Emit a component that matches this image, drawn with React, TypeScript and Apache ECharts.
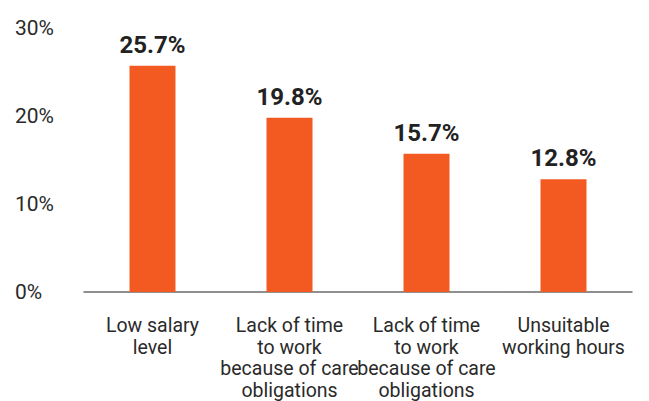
import React, { useEffect, useRef } from "react";
import * as echarts from "echarts";

const categories = [
  "Low salary\nlevel",
  "Lack of time\nto work\nbecause of care\nobligations",
  "Lack of time\nto work\nbecause of care\nobligations",
  "Unsuitable\nworking hours",
];
const values = [25.7, 19.8, 15.7, 12.8];
const yTicks = [0, 10, 20, 30];

export default function App() {
  const ref = useRef<HTMLDivElement>(null);
  useEffect(() => {
    if (!ref.current) return;
    const chart = echarts.init(ref.current, null, { renderer: "svg" });
    chart.setOption({
      animation: false,
      grid: { left: 84, right: 17, top: 28, bottom: 108, containLabel: false },
      xAxis: {
        type: "category",
        data: categories,
        axisLine: { lineStyle: { color: "#6b6b6b", width: 1.5 } },
        axisTick: { show: false },
        axisLabel: {
          color: "#2a2a2a",
          fontFamily: "Roboto",
          fontSize: 19.5,
          lineHeight: 21.5,
          margin: 23,
          interval: 0,
        },
      },
      yAxis: {
        type: "value",
        min: yTicks[0],
        max: yTicks[yTicks.length - 1],
        interval: 10,
        splitLine: { show: false },
        axisLine: { show: false },
        axisTick: { show: false },
        axisLabel: {
          color: "#2a2a2a",
          fontFamily: "Roboto",
          fontSize: 21,
          align: "left",
          margin: 69,
          formatter: (v: number) => v + "%",
        },
      },
      series: [
        {
          type: "bar",
          data: values,
          barWidth: 46,
          itemStyle: { color: "#F25A22" },
          label: {
            show: true,
            position: "top",
            distance: 9,
            color: "#222",
            fontFamily: "Roboto",
            fontWeight: "bold",
            fontSize: 24,
            formatter: (p: any) => p.value.toFixed(1) + "%",
          },
        },
      ],
    });
    return () => chart.dispose();
  }, []);
  return <div ref={ref} style={{ width: 649, height: 401, position: "absolute", left: 0, top: 0, background: "#fff" }} />;
}
